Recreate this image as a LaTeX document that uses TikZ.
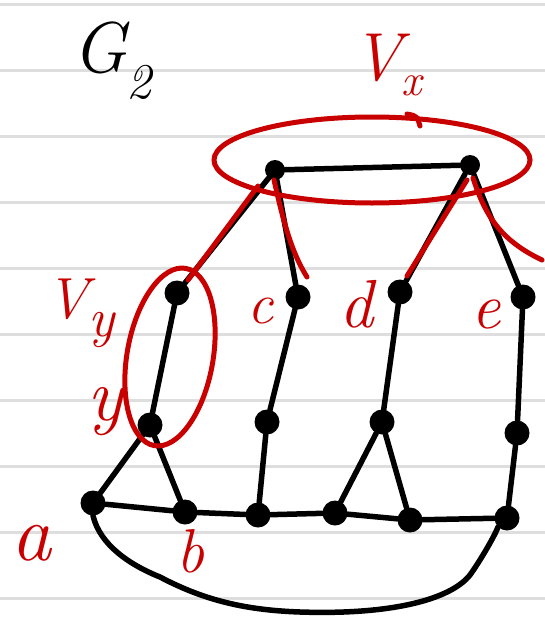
\documentclass[tikz,border=0pt]{standalone}
\usepackage{fontspec}
\usetikzlibrary{calc}
\definecolor{pen}{RGB}{200,0,0}
\definecolor{ruleline}{RGB}{222,222,222}
\begin{document}
\begin{tikzpicture}[x=1pt,y=-1pt,
  vtx/.style={circle,fill=black,inner sep=0pt,minimum size=25pt},
  svtx/.style={circle,fill=black,inner sep=0pt,minimum size=20pt},
  edge/.style={line width=5.5pt,line cap=round,black},
  redline/.style={line width=5pt,line cap=round,pen},
  lbl/.style={text=pen,inner sep=0pt,anchor=base},
]
\useasboundingbox (0,0) rectangle (545,618);
\fill[white] (0,0) rectangle (545,618);
\foreach \k in {0,...,9} \draw[ruleline,line width=3pt] (0,{5+65.9*\k}) -- (545,{5+65.9*\k});

% vertices
\node[svtx] (t1) at (275,170) {};
\node[svtx] (t2) at (470,165) {};
\node[vtx] (vy) at (177,293) {};
\node[vtx] (c)  at (298,297) {};
\node[vtx] (d)  at (400,292) {};
\node[vtx] (e)  at (523,297) {};
\node[vtx] (y)  at (150,425) {};
\node[vtx] (mc) at (267,422) {};
\node[vtx] (md) at (382,422) {};
\node[vtx] (me) at (517,433) {};
\node[vtx] (a)  at (93,503) {};
\node[vtx] (b)  at (185,512) {};
\node[vtx] (bc) at (258,515) {};
\node[vtx] (d1) at (335,513) {};
\node[vtx] (d2) at (410,520) {};
\node[vtx] (be) at (507,518) {};

% edges
\draw[edge] (t1) -- (t2);
\draw[edge] (t1) -- (vy);
\draw[edge] (t1) -- (c);
\draw[edge] (t2) -- (d);
\draw[edge] (t2) -- (e);
\draw[edge] (vy) -- (y);
\draw[edge] (c) -- (mc);
\draw[edge] (d) -- (md);
\draw[edge] (e) -- (me);
\draw[edge] (y) -- (a);
\draw[edge] (y) -- (b);
\draw[edge] (mc) -- (bc);
\draw[edge] (md) -- (d1);
\draw[edge] (md) -- (d2);
\draw[edge] (me) -- (be);
\draw[edge] (a) -- (b);
\draw[edge] (b) -- (bc);
\draw[edge] (bc) -- (d1);
\draw[edge] (d1) -- (d2);
\draw[edge] (d2) -- (be);
\draw[edge] (a.south) .. controls (100,545) and (130,565) .. (160,577)
   .. controls (200,598) and (240,610) .. (300,612)
   .. controls (390,615) and (450,600) .. (470,575)
   .. controls (482,558) and (495,535) .. (be.south west);

% red marks
\coordinate (r1s) at (258,186);
\coordinate (r1e) at (188,280);
\coordinate (r2s) at (274,180);
\coordinate (r2e) at (307,277);
\coordinate (r3s) at (467,180);
\coordinate (r3e) at (407,276);
\coordinate (r4s) at (473,178);
\coordinate (r4e) at (542,260);
\draw[redline] (r1s) -- (r1e);
\draw[redline] (r2s) .. controls (282,215) and (290,250) .. (r2e);
\draw[redline] (r3s) -- (r3e);
\draw[redline] (r4s) .. controls (485,215) and (500,240) .. (r4e);
\draw[redline] (372,160) ellipse [x radius=158pt, y radius=43pt];
\draw[redline] (407,114) .. controls (417,116) .. (420,126);
\draw[redline, rotate around={-10:(170,357)}] (170,357) ellipse [x radius=43pt, y radius=90pt];

% labels
\node[lbl,anchor=base west,text=black,font=\fontsize{72}{72}\selectfont\itshape] (g2) at (72,72) {G\raisebox{-26pt}{\fontsize{50}{50}\selectfont 2}};
\node[lbl,anchor=base west,font=\fontsize{68}{68}\selectfont\itshape] (lvx) at (352,80) {V\raisebox{-15pt}{\fontsize{45}{45}\selectfont x}};
\node[lbl,anchor=base west,font=\fontsize{58}{58}\selectfont\itshape] (lvy) at (46,318) {V\raisebox{-18pt}{\fontsize{55}{55}\selectfont y}};
\node[lbl,font=\fontsize{75}{75}\selectfont\itshape] (ly) at (105,420) {y};
\node[lbl,font=\fontsize{80}{80}\selectfont\itshape] (la) at (31,560) {a};
\node[lbl,font=\fontsize{62}{62}\selectfont\itshape] (lb) at (190,572) {b};
\node[lbl,font=\fontsize{58}{58}\selectfont\itshape] (lc) at (261,323) {c};
\node[lbl,font=\fontsize{68}{68}\selectfont\itshape] (ld) at (356,327) {d};
\node[lbl,font=\fontsize{65}{65}\selectfont\itshape] (le) at (486,328) {e};
\end{tikzpicture}
\end{document}
